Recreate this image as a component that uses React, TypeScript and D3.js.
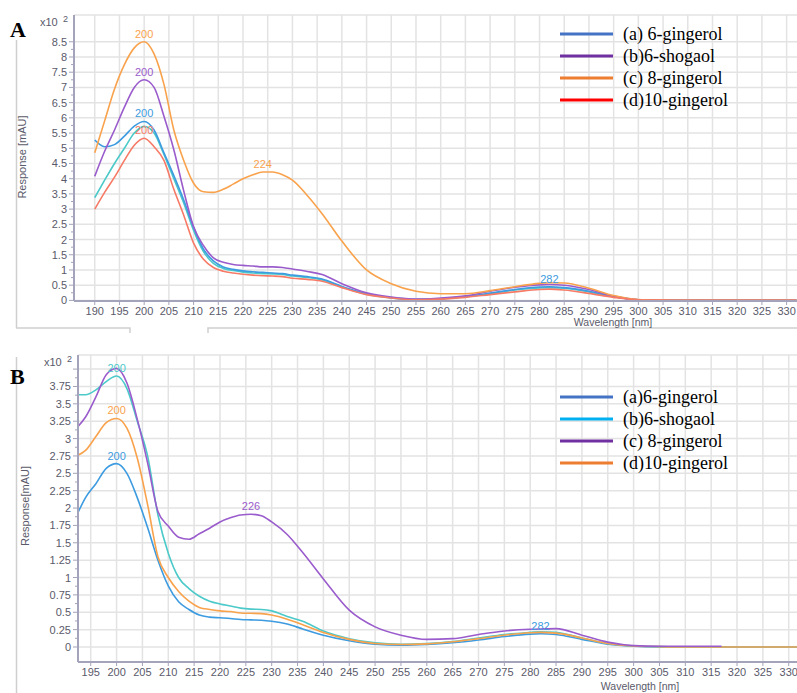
import React from 'react';
import * as d3 from 'd3';

// ---------- panel A data (x10^2 mAU) ----------
const waveA = [190, 192, 194, 196, 198, 200, 202, 204, 206, 208, 210, 212, 214, 216, 218, 220, 222, 224, 226, 228, 230, 233, 236, 240, 245, 250, 255, 260, 265, 270, 275, 280, 282, 285, 290, 295, 300, 305, 310, 320, 332];
const blueA = [5.27, 5.05, 5.12, 5.4, 5.73, 5.88, 5.6, 4.85, 4.1, 3.3, 2.4, 1.68, 1.3, 1.1, 1.02, 0.97, 0.94, 0.92, 0.9, 0.88, 0.83, 0.78, 0.7, 0.46, 0.22, 0.09, 0.03, 0.05, 0.13, 0.24, 0.36, 0.44, 0.45, 0.42, 0.3, 0.13, 0.02, 0.01, 0, 0, 0];
const tealA = [3.38, 3.95, 4.5, 5.0, 5.5, 5.72, 5.5, 4.8, 4.0, 3.2, 2.3, 1.6, 1.22, 1.05, 0.98, 0.93, 0.9, 0.88, 0.87, 0.85, 0.8, 0.75, 0.67, 0.44, 0.2, 0.08, 0.03, 0.05, 0.12, 0.22, 0.34, 0.41, 0.42, 0.4, 0.28, 0.12, 0.02, 0.01, 0, 0, 0];
const purpleA = [4.08, 4.9, 5.6, 6.35, 7.0, 7.25, 7.0, 6.05, 4.95, 3.6, 2.42, 1.8, 1.4, 1.25, 1.18, 1.15, 1.13, 1.1, 1.1, 1.08, 1.03, 0.95, 0.85, 0.55, 0.25, 0.11, 0.04, 0.08, 0.15, 0.3, 0.43, 0.51, 0.52, 0.5, 0.36, 0.14, 0.02, 0.01, 0, 0, 0];
const orangeA = [4.85, 5.9, 6.95, 7.75, 8.3, 8.5, 8.1, 7.1, 5.6, 4.6, 3.85, 3.57, 3.55, 3.65, 3.82, 4.0, 4.13, 4.22, 4.22, 4.13, 3.95, 3.45, 2.85, 1.95, 1.0, 0.55, 0.3, 0.22, 0.22, 0.32, 0.45, 0.56, 0.58, 0.57, 0.4, 0.16, 0.03, 0.01, 0, 0, 0];
const salmonA = [3.0, 3.55, 4.05, 4.6, 5.1, 5.33, 5.05, 4.6, 3.65, 2.8, 1.88, 1.35, 1.08, 0.96, 0.9, 0.86, 0.83, 0.81, 0.8, 0.78, 0.73, 0.69, 0.63, 0.42, 0.19, 0.08, 0.02, 0.04, 0.1, 0.19, 0.28, 0.36, 0.37, 0.34, 0.23, 0.1, 0.02, 0.01, 0, 0, 0];

const xTicksA = [190, 195, 200, 205, 210, 215, 220, 225, 230, 235, 240, 245, 250, 255, 260, 265, 270, 275, 280, 285, 290, 295, 300, 305, 310, 315, 320, 325, 330];
const yTicksA = [0, 0.5, 1, 1.5, 2, 2.5, 3, 3.5, 4, 4.5, 5, 5.5, 6, 6.5, 7, 7.5, 8, 8.5];
const legendA = ['(a) 6-gingerol', '(b)6-shogaol', '(c) 8-gingerol', '(d)10-gingerol'];
const legendColorsA = ['#4472C4', '#7030A0', '#ED7D31', '#FF0000'];
// peak labels: [series, wavelength]
const peaksA: [string, number][] = [['orange', 200], ['purple', 200], ['blue', 200], ['salmon', 200], ['orange', 224], ['blue', 282]];

// ---------- panel B data ----------
const waveB = [192.5, 194, 196, 198, 200, 202, 204, 206, 208, 210, 212, 214, 216, 218, 220, 222, 224, 226, 228, 230, 233, 236, 240, 245, 250, 255, 260, 265, 270, 275, 280, 282, 285, 290, 295, 300, 305, 310, 317, 332];
const blueB = [1.93, 2.15, 2.35, 2.57, 2.64, 2.5, 2.15, 1.72, 1.25, 0.88, 0.65, 0.54, 0.46, 0.43, 0.42, 0.41, 0.395, 0.39, 0.385, 0.37, 0.33, 0.26, 0.17, 0.09, 0.04, 0.025, 0.035, 0.06, 0.1, 0.15, 0.185, 0.19, 0.18, 0.11, 0.04, 0.01, 0, 0, 0, 0];
const tealB = [3.63, 3.63, 3.7, 3.82, 3.9, 3.72, 3.25, 2.75, 1.9, 1.35, 1.0, 0.84, 0.73, 0.66, 0.62, 0.59, 0.56, 0.545, 0.54, 0.52, 0.44, 0.37, 0.23, 0.12, 0.06, 0.04, 0.05, 0.08, 0.13, 0.18, 0.21, 0.22, 0.21, 0.13, 0.05, 0.015, 0.005, 0, 0, 0];
const purpleB = [3.17, 3.31, 3.6, 3.92, 4.01, 3.8, 3.28, 2.65, 1.95, 1.74, 1.58, 1.55, 1.63, 1.71, 1.8, 1.86, 1.9, 1.91, 1.89, 1.8, 1.62, 1.36, 0.98, 0.53, 0.29, 0.17, 0.11, 0.12, 0.18, 0.23, 0.255, 0.26, 0.265, 0.17, 0.07, 0.02, 0.01, 0.01, 0.01, null];
const orangeB = [2.76, 2.83, 3.03, 3.23, 3.29, 3.15, 2.72, 2.05, 1.3, 1.0, 0.8, 0.66, 0.57, 0.54, 0.52, 0.51, 0.49, 0.485, 0.48, 0.46, 0.4, 0.32, 0.21, 0.11, 0.05, 0.035, 0.045, 0.075, 0.12, 0.17, 0.205, 0.21, 0.2, 0.13, 0.05, 0.015, 0.005, 0, 0, 0];

const xTicksB = [195, 200, 205, 210, 215, 220, 225, 230, 235, 240, 245, 250, 255, 260, 265, 270, 275, 280, 285, 290, 295, 300, 305, 310, 315, 320, 325, 330];
const yTicksB = [0, 0.25, 0.5, 0.75, 1, 1.25, 1.5, 1.75, 2, 2.25, 2.5, 2.75, 3, 3.25, 3.5, 3.75, 4];
const legendB = ['(a)6-gingerol', '(b)6-shogaol', '(c) 8-gingerol', '(d)10-gingerol'];
const legendColorsB = ['#4472C4', '#00B0F0', '#7030A0', '#ED7D31'];
const peaksB: [string, number][] = [['teal', 200], ['orange', 200], ['blue', 200], ['purple', 226], ['blue', 282]];

const colors: Record<string, string> = {
  blue: '#3d9be0',
  teal: '#4cc9c9',
  purple: '#9a5ccc',
  orange: '#f9a24c',
  salmon: '#f67a66',
};

const AXIS = '#a3a3bb';
const GRID = '#e3e3e3';
const TICK = '#5a5a6a';
const SANS = 'Arial, "Liberation Sans", sans-serif';
const SERIF = '"Times New Roman", "Liberation Serif", serif';

type Panel = {
  letter: string;
  wave: number[];
  series: [string, (number | null)[]][];
  xTicks: number[];
  yTicks: number[];
  yLabelSkip: number;
  xDomain: [number, number];
  yDomain: [number, number];
  left: number;
  top: number;
  bottom: number;
  legend: string[];
  legendColors: string[];
  legendTop: number;
  peaks: [string, number][];
  yTitle: string;
  yTitlePos: [number, number];
  xTitlePos: [number, number];
  letterY: number;
};

const panelA: Panel = {
  letter: 'A',
  wave: waveA,
  series: [['teal', tealA], ['blue', blueA], ['purple', purpleA], ['orange', orangeA], ['salmon', salmonA]],
  xTicks: xTicksA,
  yTicks: yTicksA,
  yLabelSkip: 99,
  xDomain: [185.8, 332.1],
  yDomain: [-0.02, 9.38],
  left: 74,
  top: 15,
  bottom: 301,
  legend: legendA,
  legendColors: legendColorsA,
  legendTop: 34,
  peaks: peaksA,
  yTitle: 'Response [mAU]',
  yTitlePos: [26, 157],
  xTitlePos: [613, 326],
  letterY: 37,
};

const panelB: Panel = {
  letter: 'B',
  wave: waveB,
  series: [['blue', blueB], ['teal', tealB], ['orange', orangeB], ['purple', purpleB]],
  xTicks: xTicksB,
  yTicks: yTicksB,
  yLabelSkip: 4,
  xDomain: [192.54, 331.6],
  yDomain: [-0.216, 4.203],
  left: 78,
  top: 355,
  bottom: 662,
  legend: legendB,
  legendColors: legendColorsB,
  legendTop: 397,
  peaks: peaksB,
  yTitle: 'Response[mAU]',
  yTitlePos: [29, 506],
  xTitlePos: [640, 690],
  letterY: 384,
};

function ChartPanel({ p }: { p: Panel }) {
  const right = 797;
  const x = d3.scaleLinear().domain(p.xDomain).range([p.left, right]);
  const y = d3.scaleLinear().domain(p.yDomain).range([p.bottom, p.top]);
  const line = d3
    .line<[number, number | null]>()
    .defined((d) => d[1] != null)
    .x((d) => x(d[0]))
    .y((d) => y(d[1] as number))
    .curve(d3.curveMonotoneX);

  const seriesMap: Record<string, (number | null)[]> = {};
  p.series.forEach(([k, v]) => (seriesMap[k] = v));

  const minor: number[] = [];
  for (let i = 0; i < p.yTicks.length - 1; i++) minor.push((p.yTicks[i] + p.yTicks[i + 1]) / 2);

  return (
    <g>
      {/* grid */}
      {p.yTicks.map((t) => (
        <line key={'gy' + t} x1={p.left} x2={right} y1={y(t)} y2={y(t)} stroke={GRID} strokeWidth={1.5} />
      ))}
      <line x1={p.left} x2={right} y1={p.top} y2={p.top} stroke={GRID} strokeWidth={1.5} />
      {p.xTicks.map((t) => (
        <line key={'gx' + t} x1={x(t)} x2={x(t)} y1={p.top} y2={p.bottom} stroke={GRID} strokeWidth={1.5} />
      ))}

      {/* curves */}
      {p.series.map(([k, vals]) => (
        <path
          key={k}
          d={line(p.wave.map((w, i) => [w, vals[i]] as [number, number | null])) || ''}
          fill="none"
          stroke={colors[k]}
          strokeWidth={1.6}
        />
      ))}

      {/* peak labels */}
      {p.peaks.map(([k, w], i) => {
        const idx = p.wave.indexOf(w);
        const v = seriesMap[k][idx] as number;
        return (
          <text key={'pk' + i} x={x(w)} y={y(v) - 4} textAnchor="middle" fontFamily={SANS} fontSize={11} fill={colors[k]}>
            {w}
          </text>
        );
      })}

      {/* axes */}
      <line x1={p.left} x2={p.left} y1={p.top} y2={p.bottom} stroke={AXIS} strokeWidth={2} />
      <line x1={p.left} x2={right} y1={p.bottom} y2={p.bottom} stroke={AXIS} strokeWidth={2} />
      {p.yTicks.map((t) => (
        <line key={'ty' + t} x1={p.left - 5} x2={p.left} y1={y(t)} y2={y(t)} stroke={AXIS} strokeWidth={1} />
      ))}
      {minor.map((t) => (
        <line key={'my' + t} x1={p.left - 3} x2={p.left} y1={y(t)} y2={y(t)} stroke={AXIS} strokeWidth={1} />
      ))}
      {p.xTicks.map((t) => (
        <line key={'tx' + t} x1={x(t)} x2={x(t)} y1={p.bottom} y2={p.bottom + 4} stroke={AXIS} strokeWidth={1} />
      ))}
      {p.yTicks
        .filter((t) => t < p.yLabelSkip)
        .map((t) => (
          <text key={'ly' + t} x={p.left - 7} y={y(t) + 4} textAnchor="end" fontFamily={SANS} fontSize={11} fill={TICK}>
            {String(t)}
          </text>
        ))}
      {p.xTicks.map((t) => (
        <text key={'lx' + t} x={x(t)} y={p.bottom + 13.5} textAnchor="middle" fontFamily={SANS} fontSize={11} fill={TICK}>
          {t}
        </text>
      ))}
      <text x={p.left - 34} y={p.top + 11} fontFamily={SANS} fontSize={11} fill={TICK}>
        x10
      </text>
      <text x={p.left - 11} y={p.top + 7} fontFamily={SANS} fontSize={9} fill={TICK}>
        2
      </text>
      <text x={p.xTitlePos[0]} y={p.xTitlePos[1]} textAnchor="middle" fontFamily={SANS} fontSize={10.5} fill={TICK}>
        Wavelength [nm]
      </text>
      <text
        transform={`translate(${p.yTitlePos[0]},${p.yTitlePos[1]}) rotate(-90)`}
        textAnchor="middle"
        fontFamily={SANS}
        fontSize={11}
        fill={TICK}
      >
        {p.yTitle}
      </text>

      {/* legend */}
      {p.legend.map((name, i) => (
        <g key={name} transform={`translate(0,${p.legendTop + i * 22})`}>
          <line x1={560} x2={613} y1={0} y2={0} stroke={p.legendColors[i]} strokeWidth={3} />
          <text x={623} y={6} fontFamily={SERIF} fontSize={18} fill="#000">
            {name}
          </text>
        </g>
      ))}

      <text x={10} y={p.letterY} fontFamily={SERIF} fontSize={22} fontWeight="bold" fill="#000">
        {p.letter}
      </text>
    </g>
  );
}

export default function App() {
  return (
    <svg
      width={797}
      height={693}
      style={{ position: 'absolute', left: 0, top: 0, background: '#fff' }}
    >
      <rect width={797} height={693} fill="#fff" />
      {/* panel frames */}
      <line x1={16.5} x2={16.5} y1={40} y2={328} stroke="#cfcfcf" strokeWidth={1.5} />
      <polyline points="16,328 130,328 130,333" fill="none" stroke="#cfcfcf" strokeWidth={1.5} />
      <polyline points="208,333 208,328 797,328" fill="none" stroke="#cfcfcf" strokeWidth={1.5} />
      <line x1={16.5} x2={16.5} y1={357} y2={693} stroke="#cfcfcf" strokeWidth={1.5} />
      <ChartPanel p={panelA} />
      <ChartPanel p={panelB} />
    </svg>
  );
}
